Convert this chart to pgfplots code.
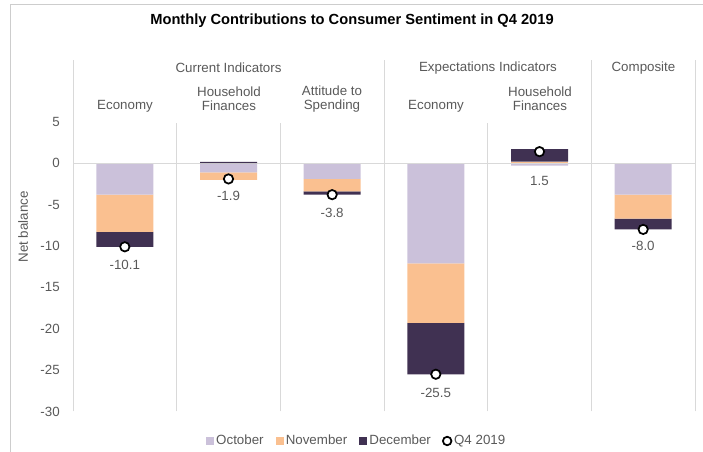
\documentclass[border=0pt]{standalone}
\usepackage{pgfplots}
\pgfplotsset{compat=1.18}
\usepackage{fontspec}
\setmainfont{Liberation Sans}
\definecolor{oct}{RGB}{203,193,218}
\definecolor{nov}{RGB}{250,192,144}
\definecolor{dec}{RGB}{64,49,82}
\definecolor{txt}{RGB}{89,89,89}
\definecolor{gl}{RGB}{217,217,217}
\definecolor{frm}{RGB}{205,205,205}
\pgfplotsset{base/.style={
  at={(54.75pt,30.375pt)}, anchor=south west,
  scale only axis, width=466.5pt, height=263.8pt,
  xmin=-0.5, xmax=5.5, ymin=-30, ymax=12.5,
  clip=false,
  axis line style={draw=none},
  tick style={draw=none},
  xtick=\empty, ytick=\empty,
  bar width=42.75pt,
}}
\begin{document}
\begin{tikzpicture}
\path[use as bounding box] (0,0) rectangle (527.25pt,339pt);
\draw[frm, line width=0.75pt] (7.5pt,0) -- (7.5pt,335.25pt) -- (527.25pt,335.25pt);
\node[font=\bfseries\fontsize{11}{13}\selectfont] at (264pt,323.5pt) {Monthly Contributions to Consumer Sentiment in Q4 2019};
\begin{scope}[every node/.style={font=\fontsize{10}{10.5}\selectfont, text=txt, align=center}]
\node at (171.4pt,288pt) {Current Indicators};
\node at (366pt,288pt) {Expectations Indicators};
\node at (482.6pt,288pt) {Composite};
\node at (93.75pt,259.5pt) {Economy};
\node at (171.75pt,264.75pt) {Household\\Finances};
\node at (249pt,264.75pt) {Attitude to\\Spending};
\node at (327pt,259.5pt) {Economy};
\node at (405pt,264.75pt) {Household\\Finances};
\node[rotate=90] at (17.25pt,168.75pt) {Net balance};
\end{scope}
% axis 1: lines, y ticks, negative stacked parts
\begin{axis}[base, ybar stacked,
  ytick={-30,-25,...,5},
  yticklabel style={font=\fontsize{10}{12}\selectfont, text=txt, anchor=east, xshift=-6.4pt},
  /pgf/number format/assume math mode=true,
]
\draw[gl, line width=0.75pt] (axis cs:-0.5,-30) -- (axis cs:-0.5,12.5);
\draw[gl, line width=0.75pt] (axis cs:2.5,-30) -- (axis cs:2.5,12.5);
\draw[gl, line width=0.75pt] (axis cs:4.5,-30) -- (axis cs:4.5,12.5);
\draw[gl, line width=0.75pt] (axis cs:5.5,-30) -- (axis cs:5.5,12.5);
\draw[gl, line width=0.75pt] (axis cs:0.5,-30) -- (axis cs:0.5,4.8);
\draw[gl, line width=0.75pt] (axis cs:1.5,-30) -- (axis cs:1.5,4.8);
\draw[gl, line width=0.75pt] (axis cs:3.5,-30) -- (axis cs:3.5,4.8);
\draw[gl, line width=0.75pt] (axis cs:-0.5,0) -- (axis cs:5.5,0);
\addplot[fill=oct, draw=none]
  coordinates {(0,-3.8) (1,-1.1) (2,-1.9) (3,-12.1) (4,-0.3) (5,-3.8)};
\addplot[fill=nov, draw=none]
  coordinates {(0,-4.5) (1,-0.9) (2,-1.5) (3,-7.2) (4,0) (5,-2.9)};
\addplot[fill=dec, draw=none]
  coordinates {(0,-1.8) (1,0) (2,-0.4) (3,-6.2) (4,0) (5,-1.3)};
\end{axis}
% axis 2: positive stacked parts
\begin{axis}[base, ybar stacked]
\addplot[fill=oct, draw=none]
  coordinates {(0,0) (1,0) (2,0) (3,0) (4,0) (5,0)};
\addplot[fill=nov, draw=none]
  coordinates {(0,0) (1,0) (2,0) (3,0) (4,0.2) (5,0)};
\addplot[fill=dec, draw=none]
  coordinates {(0,0) (1,0.15) (2,0) (3,0) (4,1.5) (5,0)};
\end{axis}
% axis 3: totals, labels, legend
\begin{axis}[base,
  legend style={at={(0.4566,-0.0839)}, anchor=center, draw=none, fill=none,
    font=\fontsize{10}{12}\selectfont, text=txt,
    /tikz/every even column/.append style={column sep=7pt},
    /tikz/every odd column/.append style={column sep=0pt}},
  legend columns=4,
]
\addlegendimage{legend image code/.code={\fill[oct] (0pt,-2.6pt) rectangle (5.2pt,2.6pt);}}
\addlegendentry{October}
\addlegendimage{legend image code/.code={\fill[nov] (0pt,-2.6pt) rectangle (5.2pt,2.6pt);}}
\addlegendentry{November}
\addlegendimage{legend image code/.code={\fill[dec] (0pt,-2.6pt) rectangle (5.2pt,2.6pt);}}
\addlegendentry{December}
\addplot[only marks, mark=*, mark size=3.5pt, mark options={fill=white, draw=black, line width=1.3pt},
  legend image code/.code={\draw[only marks, mark=*, mark size=3.2pt, mark options={fill=white,draw=black,line width=1.3pt}] plot coordinates {(3pt,0pt)};}]
  coordinates {(0,-10.1) (1,-1.9) (2,-3.8) (3,-25.5) (4,1.4) (5,-8.0)};
\addlegendentry{Q4 2019}
\begin{scope}[every node/.style={font=\fontsize{10}{12}\selectfont, text=txt}]
\node at (axis cs:0,-12.3) {-10.1};
\node at (axis cs:1,-4.0) {-1.9};
\node at (axis cs:2,-6.0) {-3.8};
\node at (axis cs:3,-27.8) {-25.5};
\node at (axis cs:4,-2.2) {1.5};
\node at (axis cs:5,-10.0) {-8.0};
\end{scope}
\end{axis}
\end{tikzpicture}
\end{document}
